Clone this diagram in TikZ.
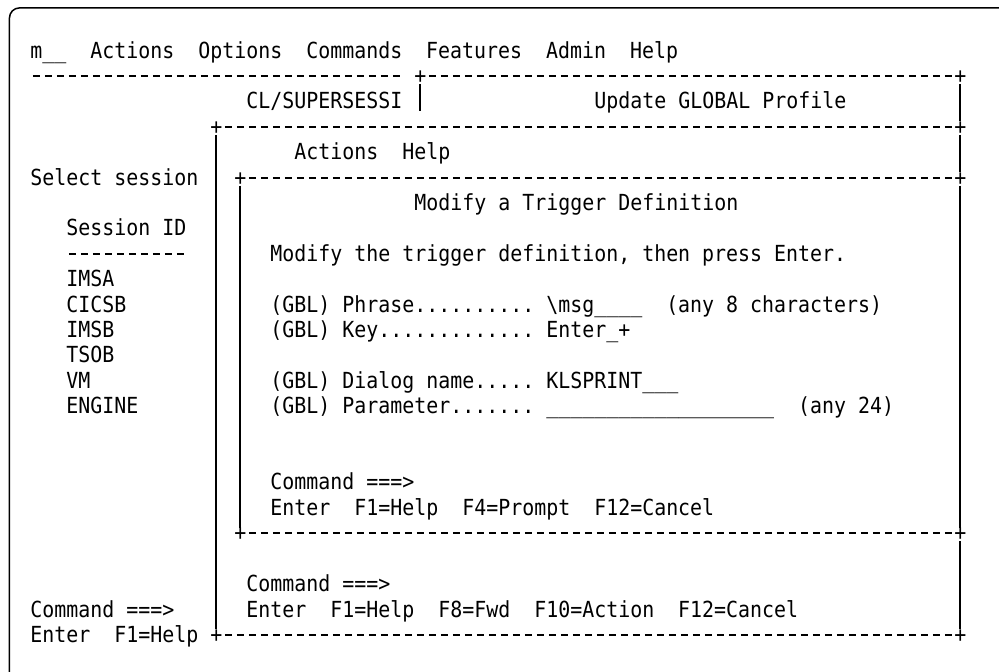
\documentclass[tikz,border=0pt]{standalone}
\usepackage{fontspec}
\setmonofont[FakeStretch=0.9]{DejaVu Sans Mono}
\newcommand\scrfont{\ttfamily\fontsize{11.07}{12.7}\selectfont}
\newcommand\charrun[2]{\foreach\k in {1,...,#1}{#2}}
\newcommand\dsh{\makebox[6pt]{\rule[3.3pt]{3.6pt}{0.95pt}}}

\begin{document}
\begin{tikzpicture}[x=6pt, y=-12.7pt,
    txt/.style={anchor=base west, inner sep=0pt, font=\scrfont},
    edge/.style={line width=1pt},
    frame/.style={line width=0.75pt, rounded corners=5pt}]
    \useasboundingbox (-2.5,-2.2913) rectangle (80.75,24.1654);
    \draw[frame] (80.75,-1.98) -- (-1.71,-1.98) -- (-1.71,24.17);

    % menu bar and top window
    \node[txt] (menu) at (0, 0) {m\_\_~~Actions~~Options~~Commands~~Features~~Admin~~Help};
    \node[txt] (d1a) at (0, 1) {\charrun{31}{\dsh}};
    \node[txt] (t1m) at (32, 1) {+};
    \node[txt] (d1b) at (33, 1) {\charrun{44}{\dsh}};
    \node[txt] (t1r) at (77, 1) {+};
    \node[txt] (cl) at (18, 2) {CL/SUPERSESSI};
    \node[txt] (upd) at (47, 2) {Update GLOBAL Profile};

    % profile window
    \node[txt] (m3l) at (15, 3) {+};
    \node[txt] (d3) at (16, 3) {\charrun{61}{\dsh}};
    \node[txt] (m3r) at (77, 3) {+};
    \node[txt] (bar) at (22, 4) {Actions~~Help};
    \node[txt] (sel) at (0, 5) {Select session};

    % trigger window
    \node[txt] (i5l) at (17, 5) {+};
    \node[txt] (d5) at (18, 5) {\charrun{59}{\dsh}};
    \node[txt] (i5r) at (77, 5) {+};
    \node[txt] (title) at (32, 6) {Modify a Trigger Definition};
    \node[txt] (intro) at (20, 8) {Modify the trigger definition, then press Enter.};
    \node[txt] (phr) at (20, 10) {(GBL) Phrase.......... \textbackslash msg\_\_\_\_~~(any 8 characters)};
    \node[txt] (key) at (20, 11) {(GBL) Key............. Enter\_+};
    \node[txt] (dlg) at (20, 13) {(GBL) Dialog name..... KLSPRINT\_\_\_};
    \node[txt] (par) at (20, 14) {(GBL) Parameter....... \charrun{19}{\_}~~(any 24)};
    \node[txt] (cmd1) at (20, 17) {Command ===>};
    \node[txt] (keys1) at (20, 18) {Enter~~F1=Help~~F4=Prompt~~F12=Cancel};
    \node[txt] (i19l) at (17, 19) {+};
    \node[txt] (d19) at (18, 19) {\charrun{59}{\dsh}};
    \node[txt] (i19r) at (77, 19) {+};

    % session list
    \node[txt] (sid) at (3, 7) {Session ID};
    \node[txt] (d8) at (3, 8) {\charrun{10}{\dsh}};
    \node[txt] (s1) at (3, 9) {IMSA};
    \node[txt] (s2) at (3, 10) {CICSB};
    \node[txt] (s3) at (3, 11) {IMSB};
    \node[txt] (s4) at (3, 12) {TSOB};
    \node[txt] (s5) at (3, 13) {VM};
    \node[txt] (s6) at (3, 14) {ENGINE};

    % bottom lines
    \node[txt] (cmd2) at (18, 21) {Command ===>};
    \node[txt] (keys2) at (18, 22) {Enter~~F1=Help~~F8=Fwd~~F10=Action~~F12=Cancel};
    \node[txt] (cmd3) at (0, 22) {Command ===>};
    \node[txt] (keys3) at (0, 23) {Enter~~F1=Help};
    \node[txt] (m23l) at (15, 23) {+};
    \node[txt] (d23) at (16, 23) {\charrun{61}{\dsh}};
    \node[txt] (m23r) at (77, 23) {+};

    % vertical borders
    \draw[edge] (t1m.south) -- (t1m.south |- cl.south);
    \draw[edge] (t1r.south) -- (m3r.north);
    \draw[edge] (m3r.south) -- (i5r.north);
    \draw[edge] (i5r.south) -- (i19r.north);
    \draw[edge] (i19r.south) -- (m23r.north);
    \draw[edge] (m3l.south) -- (m23l.north);
    \draw[edge] (i5l.south) -- (i19l.north);
\end{tikzpicture}
\end{document}
